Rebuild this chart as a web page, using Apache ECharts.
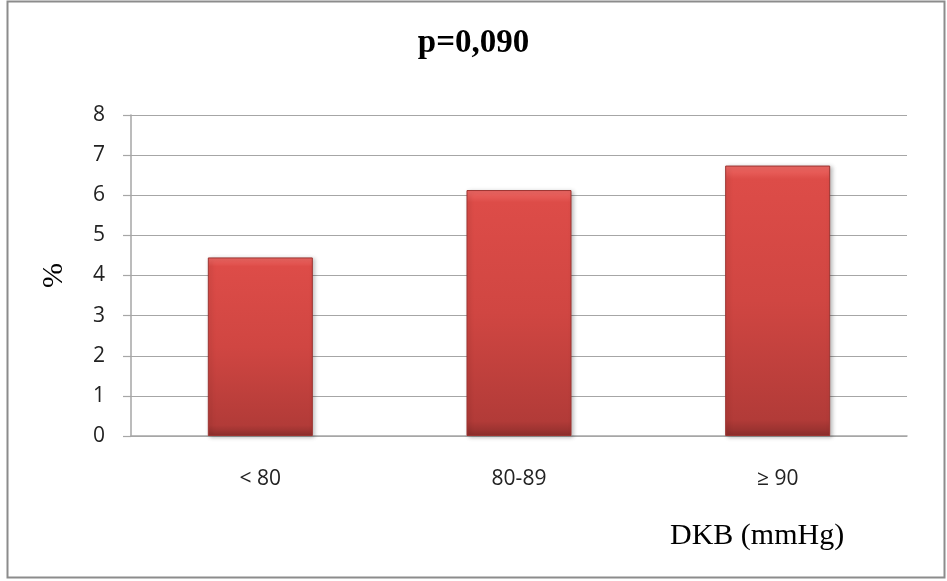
<!DOCTYPE html>
<html>
<head>
<meta charset="utf-8">
<script src="https://cdn.jsdelivr.net/npm/echarts@6/dist/echarts.min.js"></script>
<style>
  html, body { margin: 0; padding: 0; background: #fff; }
  #chart { width: 947px; height: 581px; }
</style>
</head>
<body>
<div id="chart"></div>
<script>
// Diastolic blood pressure groups and their share (%)
const categories = ['< 80', '80-89', '≥ 90'];
const values = [4.45, 6.13, 6.74];
const yTicks = { min: 0, max: 8, interval: 1 };
const titleText = 'p=0,090';
const xName = 'DKB (mmHg)';
const yName = '%';

const serif = '"Liberation Serif", "Times New Roman", serif';
const sans = '"Open Sans", "Noto Sans", sans-serif';

const chart = echarts.init(document.getElementById('chart'), null, { renderer: 'canvas' });

const barFill = new echarts.graphic.LinearGradient(0, 0, 0, 1, [
  { offset: 0, color: '#f06a66' },
  { offset: 0.05, color: '#dd4c48' },
  { offset: 0.5, color: '#d04642' },
  { offset: 0.94, color: '#b23b38' },
  { offset: 1, color: '#8e2e2c' }
]);

chart.setOption({
  animation: false,
  backgroundColor: '#ffffff',
  title: {
    text: titleText,
    left: 'center',
    top: 22,
    textStyle: {
      fontFamily: serif,
      fontSize: 33,
      fontWeight: 'bold',
      color: '#000'
    }
  },
  grid: { left: 131, right: 40, top: 115, bottom: 145 },
  xAxis: {
    type: 'category',
    data: categories,
    axisLine: { lineStyle: { color: '#a6a6a6', width: 1.5 } },
    axisTick: { show: false },
    axisLabel: {
      margin: 33,
      fontFamily: sans,
      fontSize: 21,
      color: '#222'
    }
  },
  yAxis: {
    type: 'value',
    min: yTicks.min,
    max: yTicks.max,
    interval: yTicks.interval,
    name: yName,
    nameLocation: 'middle',
    nameGap: 62,
    nameRotate: 90,
    nameTextStyle: {
      fontFamily: serif,
      fontSize: 30,
      color: '#000'
    },
    axisLine: { show: true, lineStyle: { color: '#a6a6a6', width: 1.5 } },
    axisTick: { show: true, length: 8, inside: false, lineStyle: { color: '#a6a6a6', width: 1.2 } },
    axisLabel: {
      margin: 26,
      fontFamily: sans,
      fontSize: 21,
      color: '#222'
    },
    splitLine: { lineStyle: { color: '#a6a6a6', width: 1.2 } }
  },
  series: [{
    type: 'bar',
    data: values,
    barWidth: '40.6%',
    itemStyle: {
      color: barFill,
      borderColor: '#9c3431',
      borderWidth: 1,
      shadowColor: 'rgba(0,0,0,0.25)',
      shadowBlur: 4,
      shadowOffsetX: 2,
      shadowOffsetY: 1
    }
  }],
  graphic: [
    {
      type: 'rect',
      shape: { x: 7.5, y: 1.5, width: 937, height: 576 },
      style: { fill: 'none', stroke: '#8c8c8c', lineWidth: 2 },
      silent: true
    },
    {
      type: 'text',
      left: 670,
      top: 521,
      style: {
        text: xName,
        fontFamily: serif,
        fontSize: 30,
        fill: '#000'
      }
    }
  ]
});
</script>
</body>
</html>
